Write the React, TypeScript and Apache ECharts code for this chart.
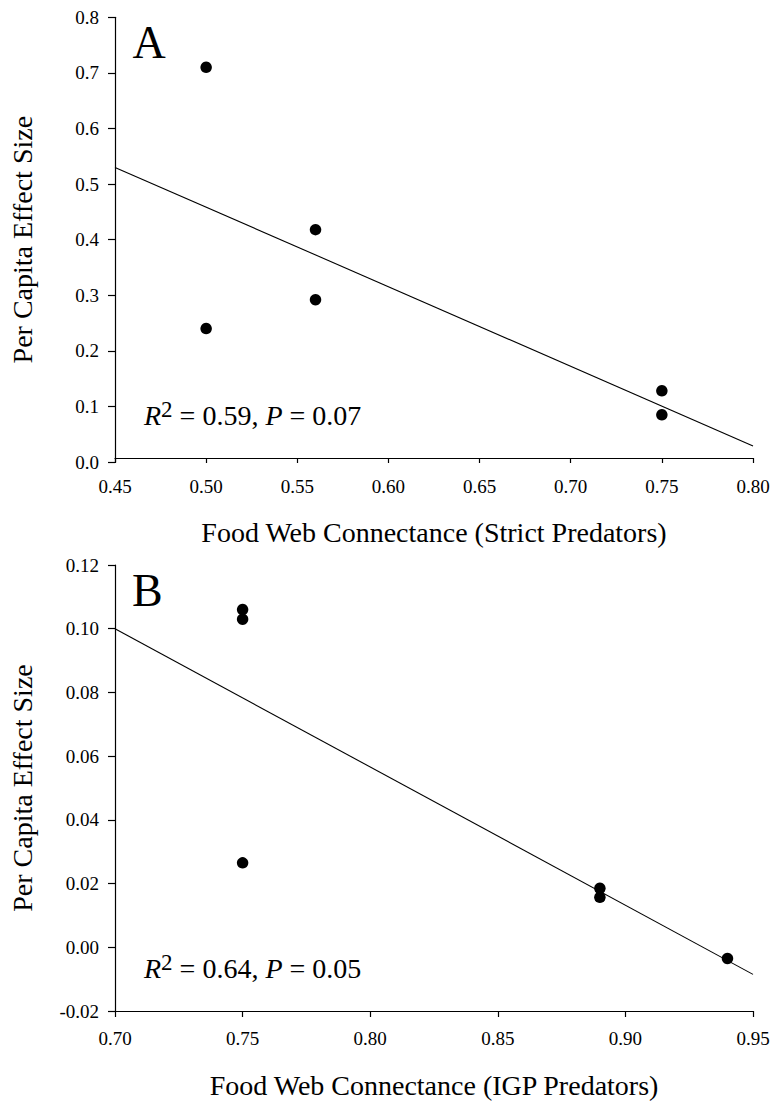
import React, { useEffect, useRef } from "react";
import * as echarts from "echarts";

// Panel A data (strict predators)
const connectanceA = [0.5, 0.5, 0.56, 0.56, 0.75, 0.75];
const effectA = [0.71, 0.24, 0.418, 0.292, 0.128, 0.085];
const fitA = [
  [0.45, 0.53],
  [0.8, 0.029],
];
// Panel B data (IGP predators)
const connectanceB = [0.75, 0.75, 0.75, 0.89, 0.89, 0.94];
const effectB = [0.106, 0.103, 0.0265, 0.0185, 0.0157, -0.0035];
const fitB = [
  [0.7, 0.1],
  [0.95, -0.0085],
];

const xTitleA = "Food Web Connectance (Strict Predators)";
const xTitleB = "Food Web Connectance (IGP Predators)";
const yTitle = "Per Capita Effect Size";
const statsA = ["0.59", "0.07"];
const statsB = ["0.64", "0.05"];

const FONT = "Liberation Serif, Times New Roman, serif";
const TICK_FS = 19;
const TITLE_FS = 28;

function statText(s: string[]) {
  return `{i|R}{s|2}{n| = ${s[0]}, }{i|P}{n| = ${s[1]}}`;
}

const richStats = {
  i: { fontStyle: "italic", fontSize: 28, fontFamily: FONT, lineHeight: 28, height: 28, verticalAlign: "bottom", fill: "#000" },
  n: { fontSize: 28, fontFamily: FONT, lineHeight: 28, height: 28, verticalAlign: "bottom", fill: "#000" },
  s: { fontSize: 23, fontFamily: FONT, height: 23, padding: [0, 0, 9, 0], verticalAlign: "top", fill: "#000" },
};

export default function App() {
  const ref = useRef<HTMLDivElement>(null);
  useEffect(() => {
    if (!ref.current) return;
    document.body.style.margin = "0";
    const chart = echarts.init(ref.current, null, { renderer: "svg" });
    const axisCommon = {
      type: "value",
      splitLine: { show: false },
      axisLine: { show: true, onZero: false, lineStyle: { color: "#000", width: 1.2 } },
      axisTick: { show: true, lineStyle: { color: "#000", width: 1.2 } },
      nameTextStyle: { fontFamily: FONT, fontSize: TITLE_FS, color: "#000" },
      nameLocation: "middle",
    };
    const labelCommon = { fontFamily: FONT, fontSize: TICK_FS, color: "#000" };
    const option = {
      animation: false,
      grid: [
        { left: 115, top: 17.3, right: 21, bottom: 642 },
        { left: 115, top: 565, right: 21, bottom: 93 },
      ],
      xAxis: [
        {
          ...axisCommon,
          gridIndex: 0,
          min: 0.45,
          max: 0.8,
          interval: 0.05,
          offset: -4,
          name: xTitleA,
          nameGap: 60,
          axisTick: { ...axisCommon.axisTick, length: 5 },
          axisLabel: { ...labelCommon, margin: 19, formatter: (v: number) => v.toFixed(2) },
        },
        {
          ...axisCommon,
          gridIndex: 1,
          min: 0.7,
          max: 0.95,
          interval: 0.05,
          name: xTitleB,
          nameGap: 60,
          axisTick: { ...axisCommon.axisTick, length: 6 },
          axisLabel: { ...labelCommon, margin: 18, formatter: (v: number) => v.toFixed(2) },
        },
      ],
      yAxis: [
        {
          ...axisCommon,
          gridIndex: 0,
          min: 0,
          max: 0.8,
          interval: 0.1,
          name: yTitle,
          nameGap: 79,
          axisTick: { ...axisCommon.axisTick, length: 7 },
          axisLabel: { ...labelCommon, margin: 16, formatter: (v: number) => v.toFixed(1) },
        },
        {
          ...axisCommon,
          gridIndex: 1,
          min: -0.02,
          max: 0.12,
          interval: 0.02,
          name: yTitle,
          nameGap: 79,
          axisTick: { ...axisCommon.axisTick, length: 7 },
          axisLabel: { ...labelCommon, margin: 16, formatter: (v: number) => v.toFixed(2) },
        },
      ],
      series: [
        {
          type: "line",
          xAxisIndex: 0,
          yAxisIndex: 0,
          data: fitA,
          symbol: "none",
          lineStyle: { color: "#000", width: 1.1 },
        },
        {
          type: "scatter",
          xAxisIndex: 0,
          yAxisIndex: 0,
          data: connectanceA.map((x, i) => [x, effectA[i]]),
          symbolSize: 11.5,
          itemStyle: { color: "#000", opacity: 1 },
        },
        {
          type: "line",
          xAxisIndex: 1,
          yAxisIndex: 1,
          data: fitB,
          symbol: "none",
          lineStyle: { color: "#000", width: 1.1 },
        },
        {
          type: "scatter",
          xAxisIndex: 1,
          yAxisIndex: 1,
          data: connectanceB.map((x, i) => [x, effectB[i]]),
          symbolSize: 11.5,
          itemStyle: { color: "#000", opacity: 1 },
        },
      ],
      graphic: [
        { type: "text", x: 132.5, y: 42.5, style: { text: "A", fontFamily: FONT, fontSize: 46, fill: "#000", verticalAlign: "middle", align: "left" } },
        { type: "text", x: 132, y: 590.5, style: { text: "B", fontFamily: FONT, fontSize: 46, fill: "#000", verticalAlign: "middle", align: "left" } },
        { type: "text", x: 144, y: 397.5, style: { text: statText(statsA), rich: richStats, verticalAlign: "top", align: "left", fontFamily: FONT, fontSize: 28 } },
        { type: "text", x: 144, y: 950.9, style: { text: statText(statsB), rich: richStats, verticalAlign: "top", align: "left", fontFamily: FONT, fontSize: 28 } },
      ],
    };
    chart.setOption(option as any);
    return () => chart.dispose();
  }, []);
  return <div ref={ref} style={{ width: 774, height: 1104, background: "#fff" }} />;
}
